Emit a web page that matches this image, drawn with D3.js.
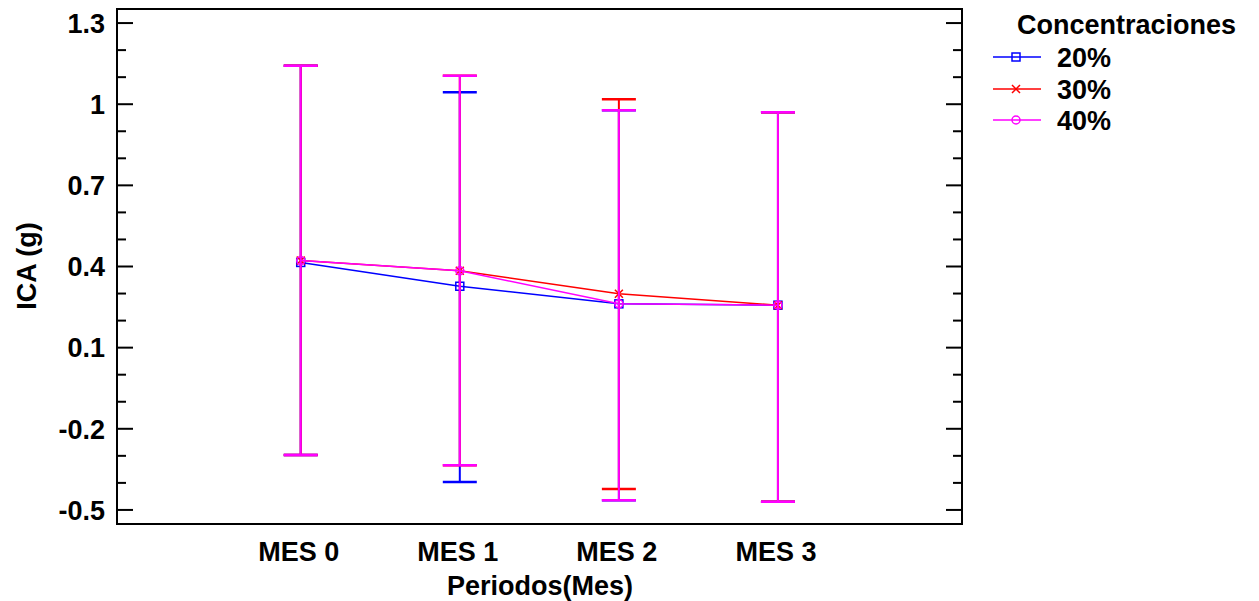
<!DOCTYPE html>
<html>
<head>
<meta charset="utf-8">
<script src="https://cdn.jsdelivr.net/npm/d3@7"></script>
<style>
  body { margin: 0; background: #fff; }
  text { font-family: "Liberation Sans", Arial, sans-serif; font-weight: bold; fill: #000; }
</style>
</head>
<body>
<svg id="chart" width="1259" height="601"></svg>
<script>
// Data
const periods = ["MES 0", "MES 1", "MES 2", "MES 3"];
const seriesNames = ["20%", "30%", "40%"];
const seriesColors = ["#0000ff", "#ff0000", "#ff00ff"];

const mean20 = [0.415, 0.327, 0.262, 0.257];
const low20 = [-0.297, -0.397, -0.464, -0.470];
const high20 = [1.142, 1.044, 0.978, 0.970];

const mean30 = [0.422, 0.384, 0.299, 0.257];
const low30 = [-0.297, -0.335, -0.423, -0.470];
const high30 = [1.142, 1.105, 1.018, 0.970];

const mean40 = [0.422, 0.384, 0.262, 0.257];
const low40 = [-0.297, -0.335, -0.464, -0.470];
const high40 = [1.142, 1.105, 0.978, 0.970];

const yMajor = [-0.5, -0.2, 0.1, 0.4, 0.7, 1, 1.3];
const yMinor = d3.range(-5, 14).map(d => d / 10);

const series = [
    { name: seriesNames[0], color: seriesColors[0], mean: mean20, low: low20, high: high20, marker: "square" },
    { name: seriesNames[1], color: seriesColors[1], mean: mean30, low: low30, high: high30, marker: "cross" },
    { name: seriesNames[2], color: seriesColors[2], mean: mean40, low: low40, high: high40, marker: "circle" }
];

const svg = d3.select("#chart");
const plot = { left: 117, right: 962, top: 9, bottom: 524 };

const x = d3.scaleLinear().domain([-1.155, 4.157]).range([plot.left, plot.right]);
const y = d3.scaleLinear().domain([-0.552, 1.352]).range([plot.bottom, plot.top]);

// frame
svg.append("rect")
    .attr("x", plot.left).attr("y", plot.top)
    .attr("width", plot.right - plot.left).attr("height", plot.bottom - plot.top)
    .attr("fill", "none").attr("stroke", "#000").attr("stroke-width", 2);

// y ticks, left and right, pointing inward
const minorOnly = yMinor.filter(v => !yMajor.some(m => Math.abs(m - v) < 1e-6));
[plot.left, plot.right].forEach((px, i) => {
    const dir = i === 0 ? 1 : -1;
    svg.append("g").selectAll("line.major").data(yMajor).enter().append("line")
        .attr("x1", px).attr("x2", px + dir * 16)
        .attr("y1", d => y(d)).attr("y2", d => y(d))
        .attr("stroke", "#000").attr("stroke-width", 2);
    svg.append("g").selectAll("line.minor").data(minorOnly).enter().append("line")
        .attr("x1", px).attr("x2", px + dir * 9)
        .attr("y1", d => y(d)).attr("y2", d => y(d))
        .attr("stroke", "#000").attr("stroke-width", 2);
});

svg.append("g").selectAll("text").data(yMajor).enter().append("text")
    .attr("x", 105).attr("y", d => y(d))
    .attr("dy", "0.36em")
    .attr("text-anchor", "end")
    .style("font-size", "27px")
    .text(d => String(d));

// x labels
svg.append("g").selectAll("text").data(periods).enter().append("text")
    .attr("x", (d, i) => x(i) - 2).attr("y", 561)
    .attr("text-anchor", "middle")
    .style("font-size", "27px")
    .text(d => d);

// axis titles
svg.append("text")
    .attr("x", 540).attr("y", 595)
    .attr("text-anchor", "middle")
    .style("font-size", "27px")
    .text("Periodos(Mes)");

svg.append("text")
    .attr("transform", "translate(36,266) rotate(-90)")
    .attr("text-anchor", "middle")
    .style("font-size", "27px")
    .text("ICA (g)");

// markers
function drawMarker(g, type, cx, cy, color, r) {
    if (type === "square") {
        g.append("rect").attr("x", cx - r).attr("y", cy - r)
            .attr("width", 2 * r).attr("height", 2 * r)
            .attr("fill", "none").attr("stroke", color).attr("stroke-width", 1.5);
    } else if (type === "cross") {
        g.append("path")
            .attr("d", `M${cx - r},${cy - r}L${cx + r},${cy + r}M${cx - r},${cy + r}L${cx + r},${cy - r}`)
            .attr("stroke", color).attr("stroke-width", 1.5);
    } else {
        g.append("circle").attr("cx", cx).attr("cy", cy).attr("r", r)
            .attr("fill", "none").attr("stroke", color).attr("stroke-width", 1.5);
    }
}

const line = d3.line().x((d, i) => x(i)).y(d => y(d));
const capHalf = 17;

series.forEach(s => {
    const g = svg.append("g");
    // error bars
    periods.forEach((p, i) => {
        g.append("line")
            .attr("x1", x(i)).attr("x2", x(i))
            .attr("y1", y(s.low[i])).attr("y2", y(s.high[i]))
            .attr("stroke", s.color).attr("stroke-width", 2);
        [s.low[i], s.high[i]].forEach(v => {
            g.append("line")
                .attr("x1", x(i) - capHalf).attr("x2", x(i) + capHalf)
                .attr("y1", y(v)).attr("y2", y(v))
                .attr("stroke", s.color).attr("stroke-width", 2.5);
        });
    });
    g.append("path").datum(s.mean)
        .attr("d", line)
        .attr("fill", "none").attr("stroke", s.color).attr("stroke-width", 1.5);
    s.mean.forEach((v, i) => drawMarker(g, s.marker, x(i), y(v), s.color, 4));
});

// legend
svg.append("text")
    .attr("x", 1017).attr("y", 34)
    .style("font-size", "27px")
    .text("Concentraciones");

const legendRows = [57, 89, 120];
series.forEach((s, i) => {
    const ly = legendRows[i];
    const g = svg.append("g");
    g.append("line").attr("x1", 993).attr("x2", 1041).attr("y1", ly).attr("y2", ly)
        .attr("stroke", s.color).attr("stroke-width", 1.5);
    drawMarker(g, s.marker, 1016, ly, s.color, 4);
    g.append("text").attr("x", 1057).attr("y", ly).attr("dy", "0.36em")
        .style("font-size", "27px")
        .text(s.name);
});
</script>
</body>
</html>
